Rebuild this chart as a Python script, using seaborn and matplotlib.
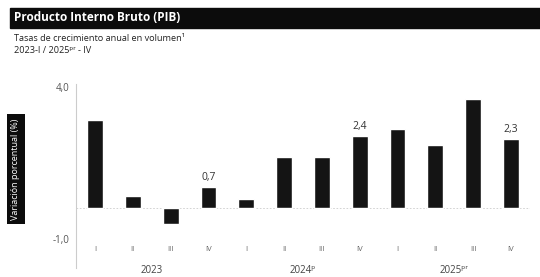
import numpy as np
import pandas as pd
import matplotlib
matplotlib.use("Agg")
import matplotlib.pyplot as plt
import seaborn as sns

# datos
trimestres = ["I", "II", "III", "IV", "I", "II", "III", "IV", "I", "II", "III", "IV"]
anios = ["2023", "2024ᵖ", "2025ᵖʳ"]
variacion = [2.9, 0.4, -0.5, 0.7, 0.3, 1.7, 1.7, 2.4, 2.6, 2.1, 3.6, 2.3]
etiquetas = {3: "0,7", 7: "2,4", 11: "2,3"}

df = pd.DataFrame({"pos": np.arange(len(variacion)), "valor": variacion})

sns.set_style("white")
plt.rcParams["font.family"] = ["Open Sans", "DejaVu Sans"]

fig = plt.figure(figsize=(5.4, 2.77), dpi=100)
ax = fig.add_axes([0.141, 0.034, 0.84, 0.663])

sns.barplot(data=df, x="pos", y="valor", color="#141414", saturation=1,
            width=0.42, ax=ax, native_scale=True)
ax.set_xlim(-0.5, 11.5)
ax.set_ylim(-1.95, 4.1)
ax.set_yticks([-1.0, 4.0])
ax.set_yticklabels(["-1,0", "4,0"], fontsize=7, color="#555555")
ax.tick_params(axis="y", length=3, color="#bbbbbb", pad=2)
ax.set_xticks([])
ax.set_xlabel("")
ax.set_ylabel("")
for s in ["top", "right", "bottom"]:
    ax.spines[s].set_visible(False)
ax.spines["left"].set_color("#cccccc")
ax.spines["left"].set_linewidth(0.8)
ax.axhline(0, color="#cccccc", lw=0.6, ls=(0, (2, 2)), zorder=0)

# etiquetas de valor
for i, txt in etiquetas.items():
    ax.text(i, variacion[i] + 0.12, txt, ha="center", va="bottom",
            fontsize=7.5, color="#333333")

# trimestres y anios
for i, q in enumerate(trimestres):
    ax.text(i, -1.35, q, ha="center", va="center", fontsize=5.5, color="#666666")
for k, a in enumerate(anios):
    ax.text(4 * k + 1.5, -2.05, a, ha="center", va="center", fontsize=7,
            color="#444444", clip_on=False)

# encabezado
fig.patches.append(plt.Rectangle((0.018, 0.9), 0.99, 0.072, transform=fig.transFigure,
                                 color="#0c0c0c", zorder=0))
fig.text(0.026, 0.936, "Producto Interno Bruto (PIB)", color="white", fontsize=8.5,
         fontweight="bold", va="center")
fig.text(0.026, 0.862, "Tasas de crecimiento anual en volumen¹", fontsize=6.6,
         color="#222222", va="center")
fig.text(0.026, 0.818, "2023-I / 2025ᵖʳ - IV", fontsize=6.6, color="#222222",
         va="center")
fig.text(0.029, 0.39, "Variación porcentual (%)", rotation=90, color="white",
         fontsize=6.5, ha="center", va="center",
         bbox=dict(boxstyle="square,pad=0.5", fc="#0c0c0c", ec="none"))

fig.savefig("out.png", dpi=100)
